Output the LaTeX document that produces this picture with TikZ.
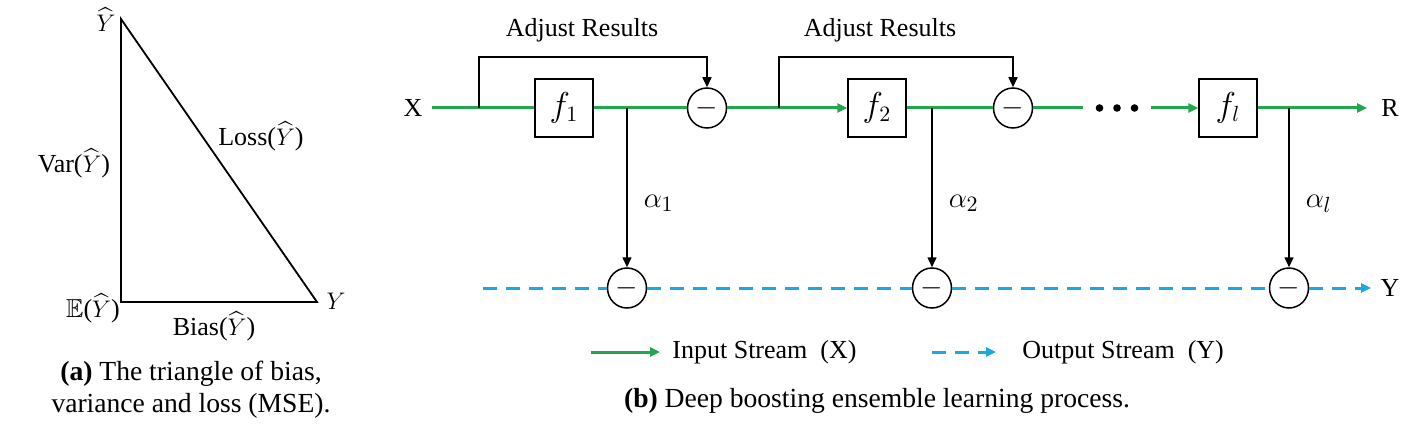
\documentclass[tikz,border=0pt]{standalone}
\usepackage{amsmath,amssymb}
\usepackage{fontspec}
\setmainfont{Liberation Serif}
\usepackage{tikz}
\usetikzlibrary{arrows.meta,positioning,shapes.geometric}
\definecolor{igreen}{HTML}{22A650}
\definecolor{oblue}{HTML}{1CA9E1}

\begin{document}
\begin{tikzpicture}[
  x=0.5pt,y=-0.5pt,
  lbl/.style={font=\fontsize{13}{15}\selectfont,inner sep=0pt},
  mlbl/.style={font=\fontsize{15}{17}\selectfont,inner sep=0pt},
  capt/.style={font=\fontsize{13.8}{16}\selectfont,inner sep=0pt,align=center},
  fbox/.style={draw,line width=0.75pt,minimum size=29pt,inner sep=0pt,
               font=\fontsize{16}{18}\selectfont},
  sub/.style={draw,ellipse,line width=0.75pt,minimum width=19.5pt,
              minimum height=20pt,inner sep=0pt,font=\fontsize{15}{17}\selectfont},
  instream/.style={draw=igreen,line width=1.5pt},
  inarr/.style={instream,-{Triangle[length=5pt,width=4.5pt]}},
  outstream/.style={draw=oblue,line width=1.5pt,dash pattern=on 7pt off 4.5pt},
  outarr/.style={outstream,-{Triangle[length=5pt,width=4.5pt]}},
  karr/.style={-{Triangle[length=5pt,width=4.5pt]},line width=0.75pt}]
  \useasboundingbox (0,0) rectangle (1428,433);

  % (a) triangle
  \coordinate (ttop) at (121,19);
  \coordinate (tcorner) at (121,302);
  \coordinate (tright) at (317,302);
  \draw[line width=0.9pt] (ttop) -- (tcorner) -- (tright) -- cycle;
  \node[lbl] (yhat) at (106,20) {$\widehat{Y}$};
  \node[lbl] (var) at (74,163) {Var($\widehat{Y}$)};
  \node[lbl] (loss) at (261,136) {Loss($\widehat{Y}$)};
  \node[lbl] (expt) at (93,308) {$\mathbb{E}$($\widehat{Y}$)};
  \node[lbl] (bias) at (214,326) {Bias($\widehat{Y}$)};
  \node[lbl] (ytrue) at (336,301) {$Y$};
  \node[capt] (capa) at (191,390) {\textbf{(a)} The triangle of bias,\\variance and loss (MSE).};

  % (b) boosting chain
  \node[lbl] (xin) at (413,108) {X};
  \coordinate (x0) at (432,108);
  \node[fbox] (f1) at (564,108) {$f_1$};
  \node[sub] (c1) at (707,108) {$-$};
  \node[fbox] (f2) at (877,108) {$f_2$};
  \node[sub] (c2) at (1013,108) {$-$};
  \node[minimum width=34pt,inner sep=0pt] (dots) at (1117,108) {};
  \foreach \k in {-17.5,0,17.5}
    \fill ([xshift=\k*0.5pt]dots.center) circle (1.9pt);
  \node[fbox] (fl) at (1228,108) {$f_l$};
  \coordinate (rout) at (1367,108);
  \node[lbl] (rlab) at (1390,108) {R};

  \node[sub] (b1) at (627,288) {$-$};
  \node[sub] (b2) at (932,288) {$-$};
  \node[sub] (b3) at (1289,288) {$-$};
  \coordinate (y0) at (483,288);
  \coordinate (yout) at (1371,288);
  \node[lbl] (ylab) at (1390,288) {Y};

  \coordinate (s1) at (479,108);
  \coordinate (s2) at (779,108);
  \coordinate (d1) at (b1 |- f1);
  \coordinate (d2) at (b2 |- f2);
  \coordinate (d3) at (b3 |- fl);

  \draw[instream] (x0) -- (f1);
  \draw[instream] (f1) -- (c1);
  \draw[inarr] (c1) -- (f2);
  \draw[instream] (f2) -- (c2);
  \draw[instream] (c2) -- (dots);
  \draw[inarr] (dots) -- (fl);
  \draw[inarr] (fl) -- (rout);

  \draw[karr] (s1) -- ++(0,-51) -| (c1);
  \draw[karr] (s2) -- ++(0,-51) -| (c2);
  \node[lbl] (adj1) at (582,30) {Adjust Results};
  \node[lbl] (adj2) at (880,30) {Adjust Results};

  \draw[karr] (d1) -- (b1) node[mlbl,pos=0.6,right=8pt] {$\alpha_1$};
  \draw[karr] (d2) -- (b2) node[mlbl,pos=0.6,right=8pt] {$\alpha_2$};
  \draw[karr] (d3) -- (b3) node[mlbl,pos=0.6,right=8pt] {$\alpha_l$};

  \draw[outstream] (y0) -- (b1);
  \draw[outstream] (b1) -- (b2);
  \draw[outstream] (b2) -- (b3);
  \draw[outarr] (b3) -- (yout);

  % legend
  \coordinate (lg1) at (591,352);
  \node[lbl,anchor=west] (lgin) at (672,352) {Input Stream\ \ (X)};
  \coordinate (lg2) at (932,352);
  \node[lbl,anchor=west] (lgout) at (1022,352) {Output Stream\ \ (Y)};
  \draw[inarr,shorten >=6pt] (lg1) -- (lgin.west);
  \draw[outarr,shorten >=13pt] (lg2) -- (lgout.west);

  \node[capt] (capb) at (877,401) {\textbf{(b)} Deep boosting ensemble learning process.};
\end{tikzpicture}
\end{document}
